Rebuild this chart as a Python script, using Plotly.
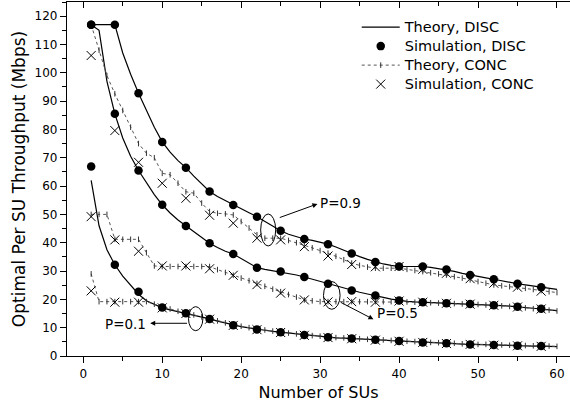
import plotly.graph_objects as go

# ---------------- data ----------------
x_theory = list(range(1, 61))
x_sim = list(range(1, 59, 3))

theory_disc_p09 = [117, 117, 117, 117, 107, 99.5, 92.8, 86.5, 80.8, 75.6,
                   72, 69, 66.5, 63.5, 60.7, 58.1, 56.3, 54.8, 53.3, 52,
                   50.6, 49.2, 47.5, 45.8, 44.2, 43, 42.1, 41.3, 40.8, 40.2,
                   39.5, 38.5, 37.3, 36.2, 35.1, 34.1, 33.2, 32.5, 32, 31.6,
                   31.6, 31.6, 31.6, 31.3, 30.9, 30.5, 29.9, 29.2, 28.6, 28.1,
                   27.6, 27.1, 26.5, 26.0, 25.5, 25.1, 24.7, 24.3, 23.9, 23.5]
theory_disc_p05 = [117, 115, 97, 85.5, 77, 70.5, 65.5, 61, 57, 53.4,
                   50.5, 48, 45.9, 43.7, 41.7, 39.8, 38.3, 37, 36, 34.3,
                   32.6, 31.2, 30.6, 30.1, 29.8, 29.2, 28.6, 27.9, 27.1, 26.3,
                   25.5, 24.7, 23.9, 23.1, 22.5, 21.9, 21.4, 20.7, 20.1, 19.6,
                   19.3, 19.1, 19.0, 18.9, 18.7, 18.6, 18.5, 18.4, 18.3, 18.2,
                   18.1, 18.0, 17.8, 17.6, 17.4, 17.1, 16.8, 16.6, 16.3, 16.0]
theory_disc_p01 = [62, 46, 37.5, 32.2, 28.2, 24.8, 21.8, 19.5, 18.2, 17.0,
                   16.3, 15.7, 15.1, 14.4, 13.7, 13.1, 12.3, 11.6, 10.9, 10.4,
                   9.9, 9.4, 9.1, 8.7, 8.4, 8.0, 7.7, 7.4, 7.1, 6.9,
                   6.6, 6.4, 6.3, 6.2, 6.0, 5.8, 5.7, 5.6, 5.4, 5.3,
                   5.1, 5.0, 4.8, 4.7, 4.6, 4.5, 4.4, 4.2, 4.1, 4.0,
                   4.0, 3.9, 3.8, 3.7, 3.6, 3.6, 3.5, 3.5, 3.4, 3.3]

theory_conc_p09 = [117, 108, 99, 92.6, 86.7, 80.8, 75, 71.6, 70, 64.5,
                   64, 61, 58, 57.5, 54, 51, 50.4, 50.2, 49.8, 47.5,
                   45.2, 42.8, 41.6, 41.6, 41.6, 40.8, 40, 39.2, 38.2, 37.2,
                   36.3, 35.2, 34, 32.8, 32, 31.4, 31, 31, 31, 31,
                   30.6, 30.2, 29.8, 29.4, 29, 28.6, 28, 27.5, 26.9, 26.3,
                   25.7, 25.1, 24.8, 24.5, 24.3, 23.9, 23.5, 23.1, 22.7, 22.4]
theory_conc_p05 = [50, 50, 50, 41.2, 41.2, 41.2, 41.2, 36.5, 31.8, 31.6,
                   31.6, 31.6, 31.6, 31.6, 31.6, 31.6, 30.5, 29.5, 28.5, 27.5,
                   26.6, 25.6, 24.6, 23.6, 22.7, 21.7, 20.8, 19.8, 19.5, 19.2,
                   19.2, 19.2, 19.2, 19.2, 19.2, 19.2, 19.2, 19.2, 19.2, 19.2,
                   19.1, 19.0, 18.9, 18.8, 18.7, 18.6, 18.5, 18.4, 18.3, 18.2,
                   18.0, 17.9, 17.7, 17.5, 17.3, 17.0, 16.7, 16.5, 16.2, 15.9]
theory_conc_p01 = [29, 19.2, 19.2, 19.2, 19.2, 19.2, 19.2, 19.2, 18.3, 17.4,
                   16.6, 15.8, 15.2, 14.5, 13.8, 13.2, 12.4, 11.7, 11.0, 10.5,
                   10.0, 9.5, 9.2, 8.8, 8.5, 8.1, 7.8, 7.5, 7.2, 7.0,
                   6.7, 6.5, 6.4, 6.3, 6.1, 5.9, 5.8, 5.7, 5.5, 5.4,
                   5.2, 5.1, 4.9, 4.8, 4.7, 4.6, 4.5, 4.3, 4.2, 4.1,
                   4.1, 4.0, 3.9, 3.8, 3.7, 3.7, 3.6, 3.6, 3.5, 3.4]

sim_disc_p09 = [117, 117, 92.8, 75.6, 66.5, 58.1, 53.3, 49.2, 44.2, 41.3,
                39.5, 36.2, 33.2, 31.6, 31.6, 30.5, 28.6, 27.1, 25.5, 24.3]
sim_disc_p05 = [117, 85.5, 65.5, 53.4, 45.9, 39.8, 36.0, 31.2, 29.8, 27.9,
                25.5, 23.1, 21.4, 19.6, 19.0, 18.6, 18.4, 17.9, 17.4, 16.7]
sim_disc_p01 = [66.9, 32.2, 22.7, 17.1, 15.1, 13.1, 10.9, 9.4, 8.4, 7.4,
                6.6, 6.2, 5.7, 5.3, 4.8, 4.5, 4.1, 3.9, 3.6, 3.5]

sim_conc_p09 = [106.1, 79.6, 68.4, 61.0, 55.7, 49.7, 46.9, 41.6, 41.0, 38.6,
                35.3, 32.3, 31.5, 31.6, 30.6, 29.2, 27.3, 25.7, 24.3, 22.9]
sim_conc_p05 = [49.2, 41.0, 37.0, 31.8, 31.8, 30.8, 28.5, 25.2, 22.2, 19.8,
                19.1, 19.2, 19.0, 19.4, 19.0, 18.6, 18.3, 17.9, 17.3, 16.6]
sim_conc_p01 = [23.0, 19.0, 19.0, 17.0, 15.0, 13.0, 10.8, 9.3, 8.3, 7.3,
                6.5, 6.1, 5.6, 5.2, 4.8, 4.4, 4.1, 3.8, 3.6, 3.4]

legend_names = ["Theory, DISC", "Simulation, DISC", "Theory, CONC", "Simulation, CONC"]
x_ticks = [0, 10, 20, 30, 40, 50, 60]
y_ticks = list(range(0, 121, 10))

FONT = "DejaVu Sans, Liberation Sans, Arial, sans-serif"


def leg(name):
    return "<span style='font-size:14.5px'>" + name + "</span>"


fig = go.Figure()

# theory DISC (solid)
for i, ys in enumerate([theory_disc_p09, theory_disc_p05, theory_disc_p01]):
    fig.add_trace(go.Scatter(
        x=x_theory, y=ys, mode="lines",
        line=dict(color="black", width=1.2),
        name=leg(legend_names[0]), legendgroup="td", showlegend=(i == 0),
        legendrank=1))

# theory CONC (dotted with tick markers)
for i, ys in enumerate([theory_conc_p09, theory_conc_p05, theory_conc_p01]):
    fig.add_trace(go.Scatter(
        x=x_theory, y=ys, mode="lines+markers",
        line=dict(color="#555555", width=1, dash="dot"),
        marker=dict(symbol="line-ns", size=4, line=dict(color="#333333", width=1)),
        name=leg(legend_names[2]), legendgroup="tc", showlegend=(i == 0),
        legendrank=3))

# simulation DISC
for i, ys in enumerate([sim_disc_p09, sim_disc_p05, sim_disc_p01]):
    fig.add_trace(go.Scatter(
        x=x_sim, y=ys, mode="markers",
        marker=dict(symbol="circle", size=8.5, color="black"),
        name=leg(legend_names[1]), legendgroup="sd", showlegend=(i == 0),
        legendrank=2))

# simulation CONC
for i, ys in enumerate([sim_conc_p09, sim_conc_p05, sim_conc_p01]):
    fig.add_trace(go.Scatter(
        x=x_sim, y=ys, mode="markers",
        marker=dict(symbol="x-thin", size=9, line=dict(color="black", width=1)),
        name=leg(legend_names[3]), legendgroup="sc", showlegend=(i == 0),
        legendrank=4))

# dummy trace for mirrored top axis
fig.add_trace(go.Scatter(x=[None], y=[None], xaxis="x2", yaxis="y2",
                         showlegend=False, hoverinfo="skip"))

XR = [-2.06, 61.65]
YR = [0, 125]

axis_common = dict(showgrid=False, zeroline=False, showline=True,
                   linecolor="black", linewidth=1.3, ticks="outside",
                   tickcolor="black", tickwidth=1.2, ticklen=6,
                   tickfont=dict(family=FONT, size=12, color="black"))

fig.update_layout(
    width=570, height=407, autosize=False,
    margin=dict(l=67, r=0, t=2, b=51),
    paper_bgcolor="white", plot_bgcolor="white",
    font=dict(family=FONT, color="black"),
    xaxis=dict(range=XR, tickvals=x_ticks,
               title=dict(text="Number of SUs", font=dict(family=FONT, size=16), standoff=7),
               minor=dict(ticks="outside", dtick=5, tick0=0, ticklen=3.5, tickcolor="black", tickwidth=1.2),
               **axis_common),
    yaxis=dict(range=YR, tickvals=y_ticks,
               title=dict(text="Optimal Per SU Throughput (Mbps)", font=dict(family=FONT, size=17), standoff=4),
               minor=dict(ticks="outside", dtick=5, tick0=0, ticklen=3.5, tickcolor="black", tickwidth=1.2),
               **axis_common),
    xaxis2=dict(range=XR, overlaying="x", side="top", anchor="y2", showgrid=False, zeroline=False,
                showline=True, linecolor="black", linewidth=1.3, ticks="inside", ticklen=6,
                tickcolor="black", tickwidth=1.2, tickvals=x_ticks, showticklabels=False,
                minor=dict(ticks="inside", dtick=5, tick0=0, ticklen=3.5, tickcolor="black", tickwidth=1.2)),
    yaxis2=dict(range=YR, overlaying="y", side="right", anchor="x2", showgrid=False, zeroline=False,
                showline=False, ticks="", showticklabels=False),
    legend=dict(x=0.576, y=0.97, xanchor="left", yanchor="top",
                bgcolor="rgba(0,0,0,0)", borderwidth=0, itemwidth=38,
                font=dict(family=FONT, size=12, color="black"),
                tracegroupgap=0, traceorder="normal"),
    showlegend=True,
)

# ellipses
ellipses = [
    (22.47, 38.85, 24.37, 50.15),
    (30.43, 16.5, 32.53, 26.3),
    (13.33, 8.94, 15.15, 17.42),
]
for x0, y0, x1, y1 in ellipses:
    fig.add_shape(type="circle", xref="x", yref="y", x0=x0, y0=y0, x1=x1, y1=y1,
                  line=dict(color="black", width=1))

# arrows (head at label)
arrows = [
    ((24.7, 48.7), (29.66, 53.7)),
    ((32.44, 19.2), (36.75, 12.95)),
    ((13.33, 11.55), (8.48, 11.55)),
]
for (tx, ty), (hx, hy) in arrows:
    fig.add_annotation(x=hx, y=hy, ax=tx, ay=ty, xref="x", yref="y", axref="x", ayref="y",
                       text="", showarrow=True, arrowhead=2, arrowsize=1, arrowwidth=1,
                       arrowcolor="black", standoff=0, startstandoff=0)

labels = [
    (29.7, 53.9, "P=0.9", "left"),
    (36.96, 15.1, "P=0.5", "left"),
    (8.19, 11.3, "P=0.1", "right"),
]
for lx, ly, t, anc in labels:
    fig.add_annotation(x=lx, y=ly, xref="x", yref="y", text=t, showarrow=False,
                       xanchor=anc, yanchor="middle",
                       font=dict(family=FONT, size=13.5, color="black"))

fig.write_html("out.html", config={"displayModeBar": False},
               post_script="document.body.style.margin='0';document.body.style.padding='0';")
